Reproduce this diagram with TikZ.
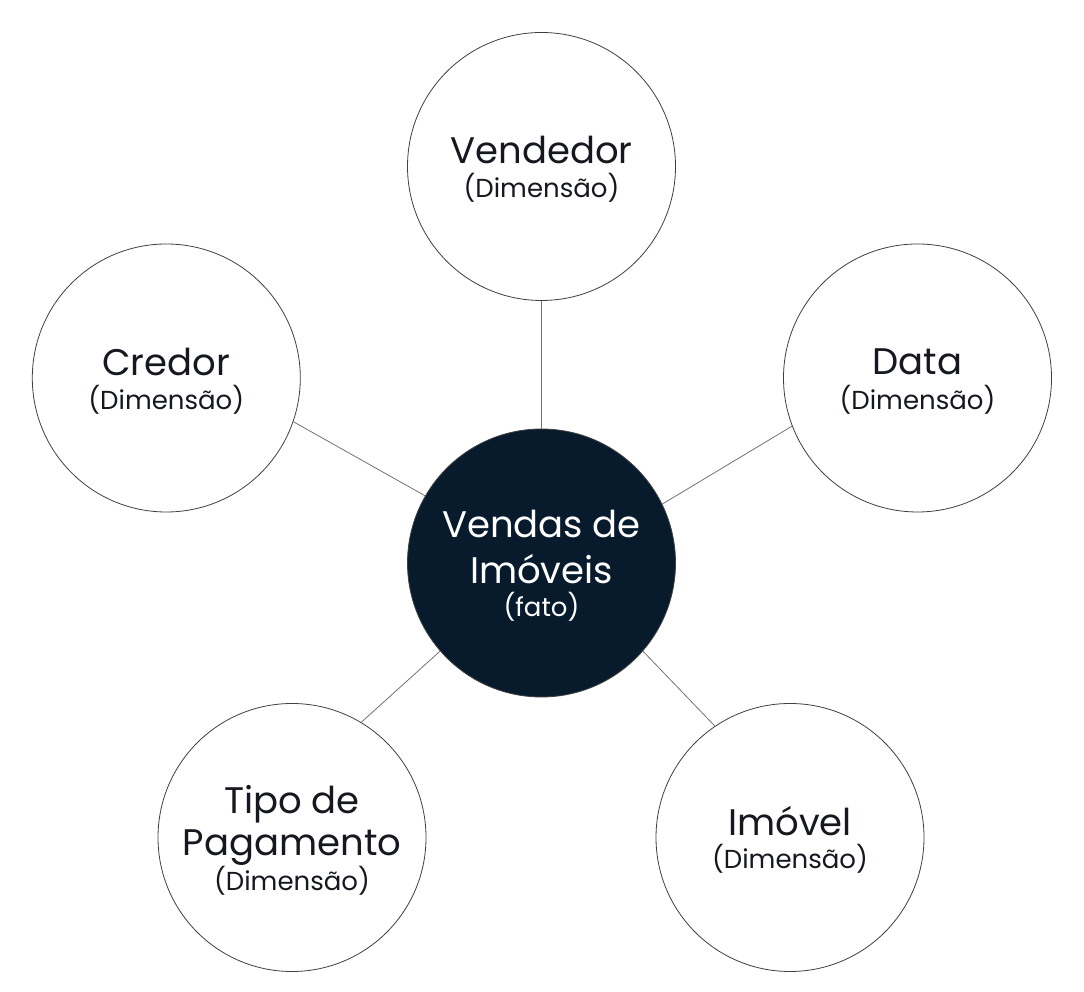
\documentclass[tikz,border=0pt]{standalone}
\usepackage{fontspec}
\setmainfont{Poppins}
\usepackage{tikz}

\definecolor{navy}{RGB}{8,27,45}
\definecolor{ink}{RGB}{22,24,32}
\newcommand{\dimtxt}[1]{{\fontsize{26}{30}\selectfont #1}}
\newcommand{\tallstrut}{\rule{0pt}{33pt}}

\begin{document}
\begin{tikzpicture}[x=1pt, y=1pt,
    every node/.style={circle, draw=black!75, line width=0.8pt, minimum size=268pt,
      inner sep=0pt, align=center, text=ink, font=\fontsize{37}{42}\selectfont},
    link/.style={draw=black!55, line width=0.8pt}]
      \useasboundingbox[fill=white] (0,0) rectangle (1084,992);

      \node[fill=navy, text=white] (fato) at (541.5, 429) {\tallstrut Vendas de\\[4pt]Imóveis\\[-9pt]\dimtxt{(fato)}};
      \node (vend) at (541.5, 825.5) {\tallstrut Vendedor\\[-8pt]\dimtxt{(Dimensão)}};
      \node (cred) at (166.3, 614) {\tallstrut Credor\\[-8pt]\dimtxt{(Dimensão)}};
      \node (data) at (917.5, 614) {\tallstrut Data\\[-7pt]\dimtxt{(Dimensão)}};
      \node (tipo) at (292, 154.5) {\tallstrut Tipo de\\Pagamento\\[-7pt]\dimtxt{(Dimensão)}};
      \node (imov) at (790, 154.5) {\tallstrut Imóvel\\[-9pt]\dimtxt{(Dimensão)}};

      \draw[link] (fato.90) edge (vend.270);
      \draw[link] (fato.150.7) edge (cred.-19.2);
      \draw[link] (fato.26.1) edge (data.201.2);
      \draw[link] (fato.221.7) edge (tipo.59.8);
      \draw[link] (fato.-41.6) edge (imov.124.7);
    \end{tikzpicture}
\end{document}
